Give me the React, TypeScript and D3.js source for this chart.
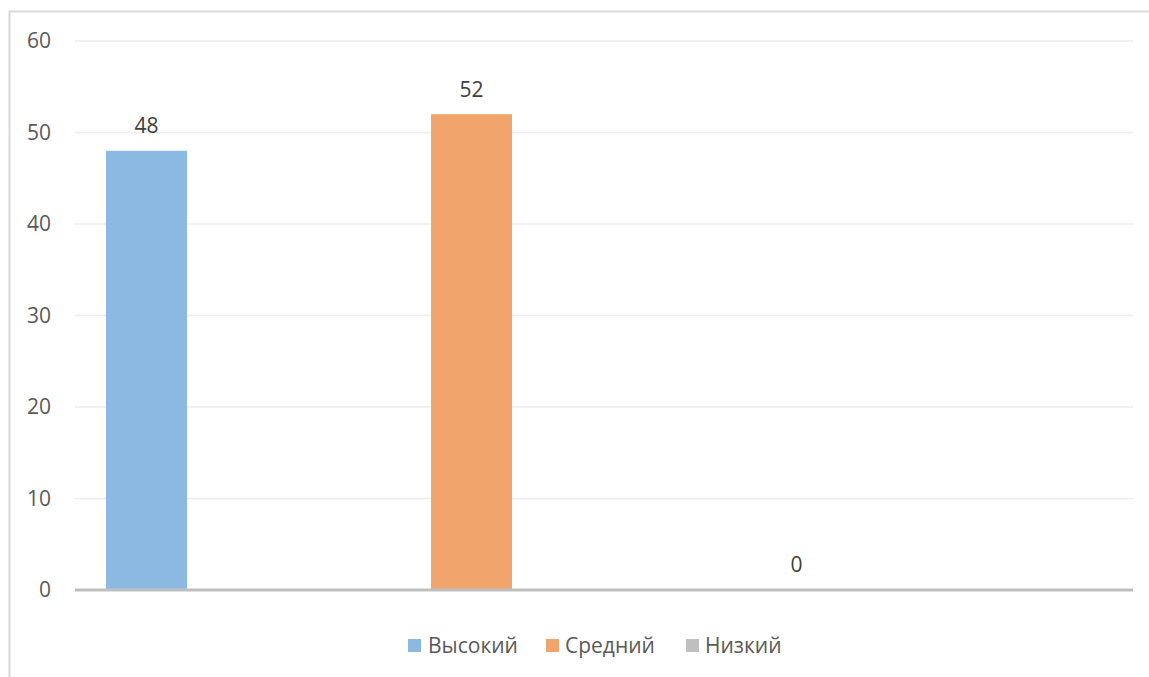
import React from "react";
import * as d3 from "d3";

const series = ["Высокий", "Средний", "Низкий"];
const values = [48, 52, 0];
const colors = ["#8cb9e2", "#f1a46c", "#bfbfbf"];
const yTicks = [0, 10, 20, 30, 40, 50, 60];

const W = 1149;
const H = 677;
const plotLeft = 75;
const plotRight = 1133;
const plotTop = 41;
const plotBottom = 590;
const FONT = "'Open Sans', 'Noto Sans', sans-serif";
const FS = 21;

export default function App() {
  const y = d3.scaleLinear().domain([0, 60]).range([plotBottom, plotTop]);
  const x = d3
    .scaleBand<string>()
    .domain(series)
    .range([plotLeft, plotRight])
    .paddingInner(0.7508)
    .paddingOuter(0.503)
    .align(0.0948);

  const legendItems = [
    { x: 408, textX: 428 },
    { x: 546, textX: 565 },
    { x: 686, textX: 705 },
  ];

  return (
    <svg
      width={W}
      height={H}
      style={{ position: "absolute", left: 0, top: 0, background: "#fff" }}
      fontFamily={FONT}
    >
      <rect x={9.5} y={11.5} width={W + 10} height={H + 10} fill="#fff" stroke="#d9d9d9" strokeWidth={2} />

      {yTicks.map((t) => (
        <g key={t}>
          {t !== 0 && (
            <line x1={plotLeft} x2={plotRight} y1={y(t)} y2={y(t)} stroke="#ececec" strokeWidth={1.5} />
          )}
          <text x={51} y={y(t)} dy="0.35em" textAnchor="end" fontSize={FS} fill="#595959">
            {t}
          </text>
        </g>
      ))}

      {series.map((s, i) => (
        <g key={s}>
          <rect
            x={x(s)}
            y={y(values[i])}
            width={x.bandwidth()}
            height={plotBottom - y(values[i])}
            fill={colors[i]}
          />
          <text
            x={(x(s) ?? 0) + x.bandwidth() / 2}
            y={y(values[i]) - 25}
            dy="0.35em"
            textAnchor="middle"
            fontSize={FS}
            fill="#404040"
          >
            {values[i]}
          </text>
        </g>
      ))}

      <line x1={plotLeft} x2={plotRight} y1={plotBottom} y2={plotBottom} stroke="#bfbfbf" strokeWidth={3} />

      {series.map((s, i) => (
        <g key={"lg" + s}>
          <rect x={legendItems[i].x} y={639} width={13} height={13} fill={colors[i]} />
          <text x={legendItems[i].textX} y={646} dy="0.35em" fontSize={FS} fill="#595959">
            {s}
          </text>
        </g>
      ))}
    </svg>
  );
}
